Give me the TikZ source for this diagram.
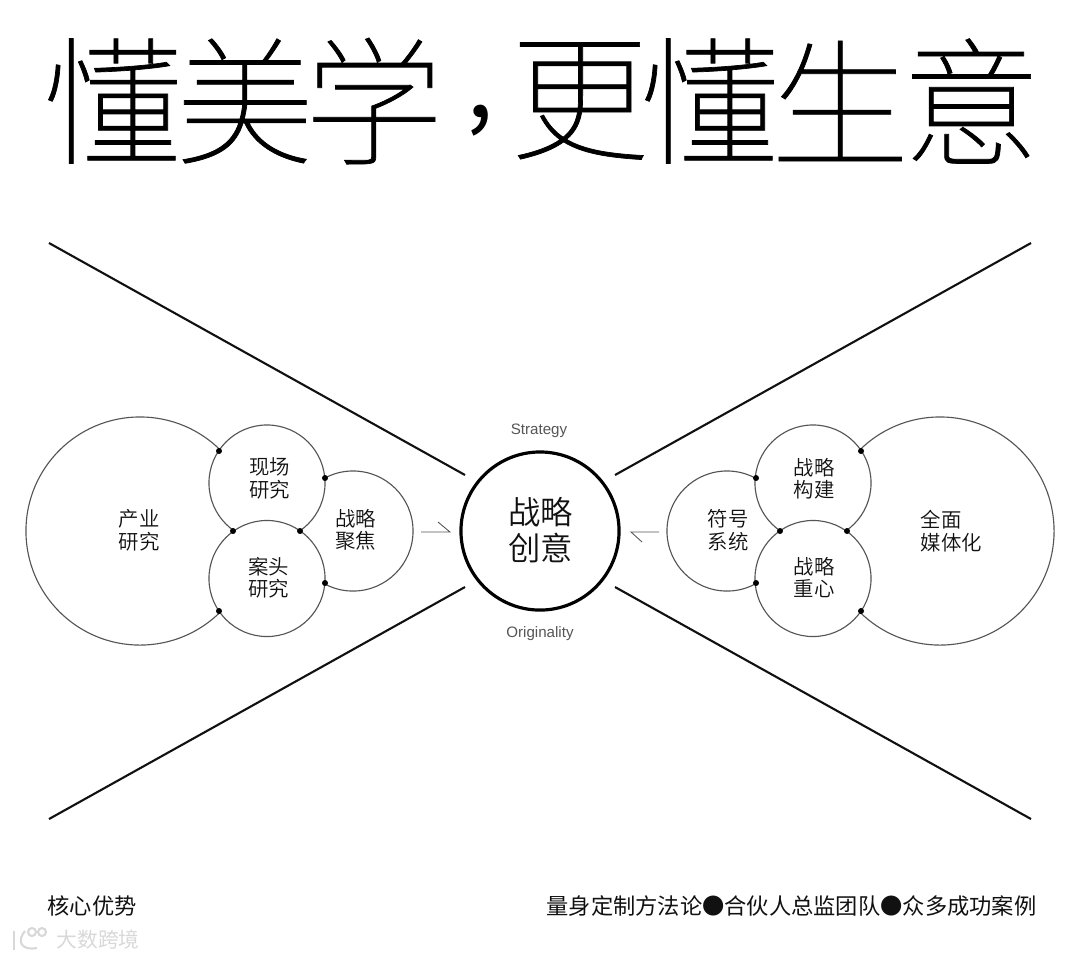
\documentclass[tikz,border=0pt]{standalone}
\usepackage{fontspec}
\newfontfamily\cjk{Noto Sans CJK SC}
\newfontfamily\cjkdemi{Noto Sans CJK SC DemiLight}
\newfontfamily\cjkhead[FakeBold=0.5]{Noto Sans CJK SC Thin}
\setsansfont{Liberation Sans}
\definecolor{inkline}{HTML}{111111}
\definecolor{ringline}{HTML}{555555}
\definecolor{markcell}{HTML}{D8D8D8}
\tikzset{
  ring/.style={draw=ringline, circle, fill=white, inner sep=0pt, line width=0.32pt},
  bigring/.style={ring, minimum size=2.28cm},
  midring/.style={ring, minimum size=1.2cm},
  smallring/.style={ring, minimum size=1.16cm},
  corering/.style={ring, draw=black, line width=0.9pt, minimum size=1.58cm},
  ringtext/.style={inner sep=0pt, align=center, text=inkline, font=\cjkdemi\fontsize{5.8}{6.4}\selectfont},
  coretext/.style={ringtext, font=\cjkdemi\fontsize{9.2}{10}\selectfont},
  pin/.style={circle, fill=black, inner sep=0pt, minimum size=0.06cm},
  ray/.style={draw=inkline, line width=0.6pt},
  flow/.style={draw=ringline, line width=0.25pt},
  headline/.style={font=\cjkhead\fontsize{39.5}{39.5}\selectfont, inner sep=0pt, anchor=center},
  footline/.style={font=\cjk\fontsize{6.33}{7}\selectfont, inner sep=0pt, text=inkline},
  tagline/.style={font=\sffamily\fontsize{4.3}{5}\selectfont, inner sep=0pt, text=ringline},
  markline/.style={draw=markcell, line width=0.6pt},
}
\begin{document}
\begin{tikzpicture}[x=0.01cm, y=-0.01cm]
    \useasboundingbox (0,0) rectangle (1080,960);
    \node[headline] (t1) at (113,101) {懂};
    \node[headline] (t2) at (245,101) {美};
    \node[headline] (t3) at (374,101) {学};
    \node[headline, font=\cjk\fontsize{28}{28}\selectfont] (t4) at (480,120.5) {,};
    \node[headline] (t5) at (580,101) {更};
    \node[headline] (t6) at (710,101) {懂};
    \node[headline] (t7) at (840,101) {生};
    \node[headline] (t8) at (971,101) {意};

    \coordinate (rayA0) at (49,243);
    \coordinate (rayA1) at (465,475);
    \coordinate (rayB0) at (1031,243);
    \coordinate (rayB1) at (615,475);
    \coordinate (rayC0) at (49,819);
    \coordinate (rayC1) at (465,587);
    \coordinate (rayD0) at (1031,819);
    \coordinate (rayD1) at (615,587);
    \draw[ray] (rayA0) -- (rayA1);
    \draw[ray] (rayB0) -- (rayB1);
    \draw[ray] (rayC0) -- (rayC1);
    \draw[ray] (rayD0) -- (rayD1);

    \node[bigring] (industry) at (140,531) {};
    \node[midring] (focus) at (353,531) {};
    \node[smallring] (field) at (267,483) {};
    \node[smallring] (desk) at (267,578.5) {};
    \node[bigring] (media) at (940,531) {};
    \node[midring] (symbol) at (727,531) {};
    \node[smallring] (build) at (813,483) {};
    \node[smallring] (weight) at (813,578.5) {};
    \node[corering] (core) at (540,531) {};

    \node[ringtext] (industrytext) at (139,530.5) {产业\\研究};
    \node[ringtext] (focustext) at (355.5,530) {战略\\聚焦};
    \node[ringtext] (fieldtext) at (269.5,478.5) {现场\\研究};
    \node[ringtext] (desktext) at (268.5,577.5) {案头\\研究};
    \node[ringtext, align=left] (mediatext) at (951.5,531) {全面\\媒体化};
    \node[ringtext] (symboltext) at (728,530) {符号\\系统};
    \node[ringtext] (buildtext) at (814,478.5) {战略\\构建};
    \node[ringtext] (weighttext) at (814,577.5) {战略\\重心};
    \node[coretext] (coretitle) at (540.5,530) {战略\\创意};
    \node[tagline] (strategy) at (539,430.5) {Strategy};
    \node[tagline] (origin) at (540,633.5) {Originality};

    \node[pin] (p1) at (219,451) {};
    \node[pin] (p2) at (233,531) {};
    \node[pin] (p3) at (300,531) {};
    \node[pin] (p4) at (325,478) {};
    \node[pin] (p5) at (325,583) {};
    \node[pin] (p6) at (219,611) {};
    \node[pin] (q1) at (861,451) {};
    \node[pin] (q2) at (847,531) {};
    \node[pin] (q3) at (780,531) {};
    \node[pin] (q4) at (756,478) {};
    \node[pin] (q5) at (756,583) {};
    \node[pin] (q6) at (861,611) {};

    \coordinate (flowA0) at (421,532);
    \coordinate (flowA1) at (450,532);
    \coordinate (flowA2) at (438,522);
    \coordinate (flowB0) at (659,532);
    \coordinate (flowB1) at (631,532);
    \coordinate (flowB2) at (642,542);
    \draw[flow] (flowA0) -- (flowA1) -- (flowA2);
    \draw[flow] (flowB0) -- (flowB1) -- (flowB2);

    \node[footline, anchor=west] (advantage) at (47,906) {核心优势};
    \node[footline, anchor=east] (method) at (1037,906) {量身定制方法论●合伙人总监团队●众多成功案例};

    \node[font=\cjk\fontsize{5.9}{7}\selectfont, text=markcell, inner sep=0pt, anchor=west] (mark) at (56,940) {大数跨境};
    \draw[markline] (14,931) -- (14,950);
    \draw[markline] (25,931) .. controls (17,940) and (20,951) .. (37,948);
    \draw[markline] (32,932) circle (4);
    \draw[markline] (42,932) circle (4);
\end{tikzpicture}
\end{document}
